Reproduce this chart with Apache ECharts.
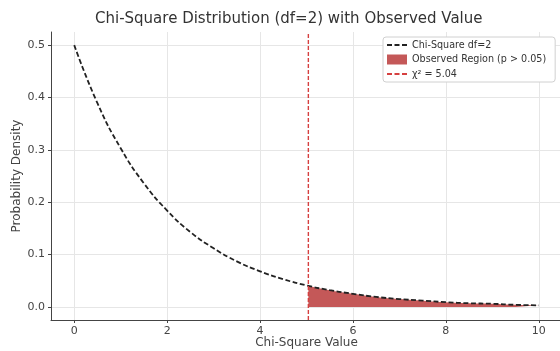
<!DOCTYPE html>
<html><head><meta charset="utf-8">
<script src="https://cdn.jsdelivr.net/npm/echarts@6/dist/echarts.min.js"></script>
<style>html,body{margin:0;padding:0;background:#fff}#c{width:560px;height:351px}</style>
</head><body><div id="c"></div>
<script>
// Chi-square df=2 density
const xValues = [0, 0.5, 1, 1.5, 2, 2.5, 3, 3.5, 4, 4.5, 5, 5.5, 6, 6.5, 7, 7.5, 8, 8.5, 9, 9.5, 10];
const densityValues = [0.500, 0.389, 0.303, 0.236, 0.184, 0.143, 0.112, 0.087, 0.068, 0.053, 0.041, 0.032, 0.025, 0.019, 0.015, 0.012, 0.009, 0.007, 0.006, 0.004, 0.003];
const regionX = [5.04, 5.5, 6, 6.5, 7, 7.5, 8, 8.5, 9, 9.5, 10];
const regionValues = [0.040, 0.032, 0.025, 0.019, 0.015, 0.012, 0.009, 0.007, 0.006, 0.004, 0.003];
const observedValue = 5.04;
const xTicks = [0, 2, 4, 6, 8, 10];
const yTicks = [0.0, 0.1, 0.2, 0.3, 0.4, 0.5];
const seriesNames = ['Chi-Square df=2', 'Observed Region (p > 0.05)', 'χ² = 5.04'];

const yMin = -0.025, yMax = 0.525;
const font = 'DejaVu Sans';
const dashIcon = 'path://M0,0h0.01v0.01h-0.01z M20,10h-0.01v-0.01h0.01z M0,4.1h5v1.8h-5z M7.5,4.1h5v1.8h-5z M15,4.1h5v1.8h-5z';
const chart = echarts.init(document.getElementById('c'), null, {renderer: 'canvas'});
chart.setOption({
  animation: false,
  backgroundColor: '#fff',
  title: {
    text: 'Chi-Square Distribution (df=2) with Observed Value',
    left: 90, top: 7,
    textStyle: {fontFamily: font, fontSize: 15, fontWeight: 'normal', color: '#333'}
  },
  grid: {left: 51, top: 32, width: 511, height: 288, outerBoundsMode: 'none', containLabel: false},
  legend: {
    orient: 'vertical', left: 383, top: 37,
    backgroundColor: '#fff', borderColor: '#d0d0d0', borderWidth: 1, borderRadius: 3,
    padding: [3, 9, 3, 4], itemGap: 4.5, itemWidth: 20, itemHeight: 10,
    textStyle: {fontFamily: font, fontSize: 9.6, color: '#333'},
    data: [
      {name: seriesNames[0], icon: dashIcon},
      {name: seriesNames[1], icon: 'rect'},
      {name: seriesNames[2], icon: dashIcon}
    ]
  },
  xAxis: {
    type: 'value', min: -0.5, max: 10.5,
    axisLine: {onZero: false, lineStyle: {color: '#444', width: 1}},
    axisTick: {show: true, length: 3, customValues: xTicks, lineStyle: {color: '#444'}},
    axisLabel: {fontFamily: font, fontSize: 11, color: '#444', margin: 6,
      customValues: xTicks, formatter: v => String(v)},
    splitLine: {show: true, lineStyle: {color: '#e6e6e6', width: 1}},
    name: 'Chi-Square Value', nameLocation: 'middle', nameGap: 17, nameMoveOverlap: false,
    nameTextStyle: {fontFamily: font, fontSize: 12, color: '#444'}
  },
  yAxis: {
    type: 'value', min: yMin, max: yMax,
    axisLine: {show: true, onZero: false, lineStyle: {color: '#444', width: 1}},
    axisTick: {show: true, length: 3, customValues: yTicks, lineStyle: {color: '#444'}},
    axisLabel: {fontFamily: font, fontSize: 11, color: '#444', margin: 6,
      customValues: yTicks, formatter: v => v.toFixed(1)},
    splitLine: {show: true, lineStyle: {color: '#e6e6e6', width: 1}},
    name: 'Probability Density', nameLocation: 'middle', nameGap: 28, nameMoveOverlap: false,
    nameTextStyle: {fontFamily: font, fontSize: 12, color: '#444'}
  },
  series: [
    {
      name: seriesNames[1], type: 'line', z: 2,
      data: regionX.map((x, i) => [x, regionValues[i]]),
      smooth: true, showSymbol: false, symbol: 'none',
      lineStyle: {width: 0, color: '#c45858'},
      itemStyle: {color: '#c45858'},
      areaStyle: {color: '#c45858', opacity: 1}
    },
    {
      name: seriesNames[0], type: 'line', z: 3,
      data: xValues.map((x, i) => [x, densityValues[i]]),
      smooth: true, showSymbol: false, symbol: 'none',
      itemStyle: {color: '#222'},
      lineStyle: {color: '#222', width: 1.8, type: [5, 2.5]}
    },
    {
      name: seriesNames[2], type: 'line', z: 4,
      data: [[observedValue, yMin], [observedValue, yMax]],
      showSymbol: false, symbol: 'none',
      itemStyle: {color: '#d64040'},
      lineStyle: {color: '#d64040', width: 1.4, type: [4, 2]}
    }
  ]
});
</script></body></html>
